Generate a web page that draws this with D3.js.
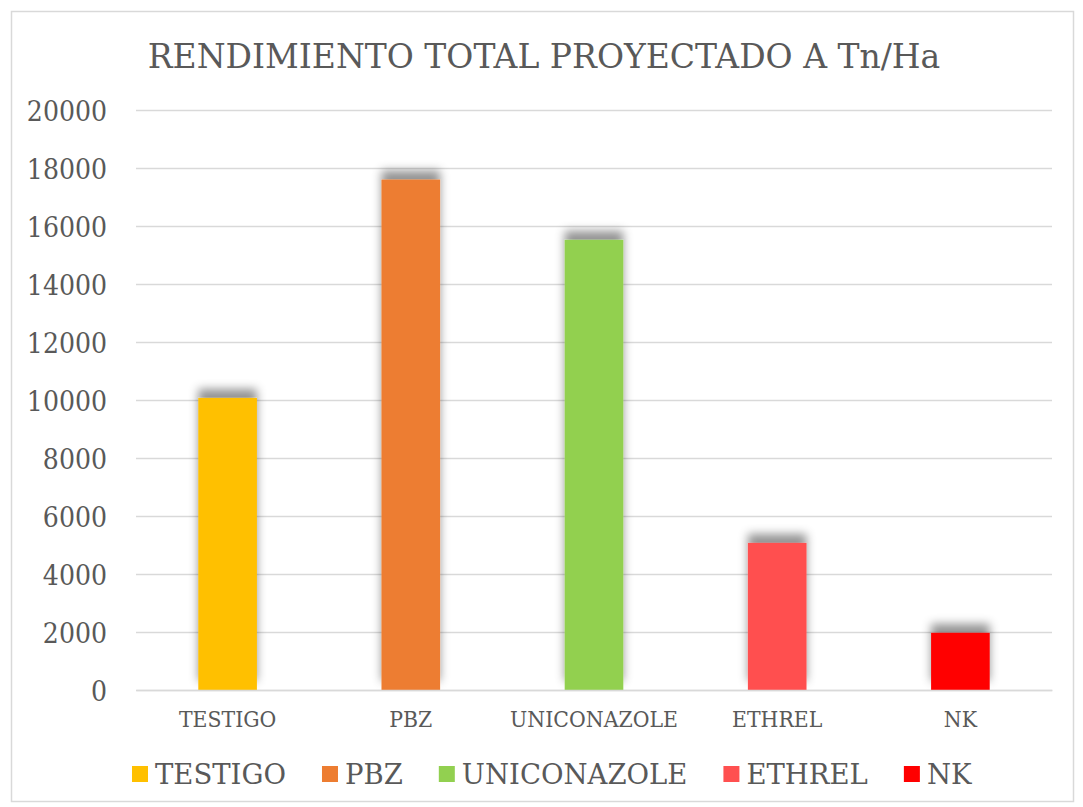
<!DOCTYPE html>
<html>
<head>
<meta charset="utf-8">
<script src="https://cdn.jsdelivr.net/npm/d3@7"></script>
<style>
  body { margin: 0; background: #fff; }
</style>
</head>
<body>
<svg id="canvas" width="1083" height="807"></svg>
<script>
var categories = ["TESTIGO", "PBZ", "UNICONAZOLE", "ETHREL", "NK"];
var values = [10070, 17600, 15520, 5070, 1970];
var colors = ["#ffc000", "#ed7d31", "#92d050", "#ff5050", "#ff0000"];
var yTicks = [0, 2000, 4000, 6000, 8000, 10000, 12000, 14000, 16000, 18000, 20000];
var title = "RENDIMIENTO TOTAL PROYECTADO A Tn/Ha";

var FONT = "'DejaVu Serif', serif";
var svg = d3.select("#canvas");

// squeeze a text a bit (Times is narrower than the serif we have)
function fit(sel, w){
	sel.each(function(){
		var len = this.getComputedTextLength() * w;
		d3.select(this).attr("textLength", len).attr("lengthAdjust", "spacingAndGlyphs");
	});
}

// outer frame
svg.append("rect")
	.attr("x", 11.5).attr("y", 11.5)
	.attr("width", 1062).attr("height", 790)
	.attr("fill", "#fff")
	.attr("stroke", "#d9d9d9")
	.attr("stroke-width", 1.5);

// soft shadow sitting above each bar
var defs = svg.append("defs");
var f = defs.append("filter").attr("id", "shadow")
	.attr("x", "-40%").attr("y", "-40%").attr("width", "180%").attr("height", "180%");
f.append("feGaussianBlur").attr("in", "SourceAlpha").attr("stdDeviation", 5).attr("result", "blur");
f.append("feOffset").attr("in", "blur").attr("dx", 0).attr("dy", -9).attr("result", "off");
f.append("feFlood").attr("flood-color", "#000").attr("flood-opacity", 0.42);
f.append("feComposite").attr("in2", "off").attr("operator", "in").attr("result", "sh");
var m = f.append("feMerge");
m.append("feMergeNode").attr("in", "sh");
m.append("feMergeNode").attr("in", "SourceGraphic");

var plotLeft = 136, plotRight = 1052, plotTop = 110, plotBottom = 690;

var y = d3.scaleLinear().domain([0, 20000]).range([plotBottom, plotTop]);
var x = d3.scaleBand().domain(categories).range([plotLeft, plotRight]).paddingInner(0.68).paddingOuter(0.34);

// title
svg.append("text")
	.attr("x", 544).attr("y", 68)
	.attr("text-anchor", "middle")
	.attr("font-family", FONT)
	.attr("fill", "#595959")
	.style("font-size", "33px")
	.text(title);

// grid
var yAxis = d3.axisLeft(y).tickValues(yTicks).tickSize(-(plotRight - plotLeft)).tickPadding(29).tickFormat(d3.format("d"));
var ga = svg.append("g").attr("transform", "translate(" + plotLeft + ",0)").call(yAxis);
ga.attr("font-family", FONT);
ga.select(".domain").remove();
ga.selectAll(".tick line").attr("stroke", "#d9d9d9").attr("stroke-width", 1.5);
ga.selectAll(".tick text")
	.attr("fill", "#595959")
	.style("font-size", "28px")
	.attr("dy", "0.38em")
	.call(fit, 0.9);

// bars
svg.append("g").selectAll("rect")
	.data(values)
	.enter()
	.append("rect")
		.attr("x", function(d, i){ return x(categories[i]); })
		.attr("y", function(d){ return y(d); })
		.attr("width", x.bandwidth())
		.attr("height", function(d){ return plotBottom - y(d); })
		.attr("fill", function(d, i){ return colors[i]; })
		.attr("filter", "url(#shadow)");

// category axis
var xAxis = d3.axisBottom(x).tickSize(0).tickPadding(21);
var gx = svg.append("g").attr("transform", "translate(0," + plotBottom + ")").call(xAxis);
gx.attr("font-family", FONT);
gx.select(".domain").attr("stroke", "#d9d9d9").attr("stroke-width", 1.5);
gx.selectAll(".tick text")
	.attr("fill", "#595959")
	.style("font-size", "22px")
	.call(fit, 0.93);

// legend
var legend = svg.append("g");
var lx = 132;
categories.forEach(function(c, i){
	legend.append("rect")
		.attr("x", lx).attr("y", 766)
		.attr("width", 16).attr("height", 16)
		.attr("fill", colors[i]);
	var t = legend.append("text")
		.attr("x", lx + 23).attr("y", 784)
		.attr("font-family", FONT)
		.attr("fill", "#595959")
		.style("font-size", "27.5px")
		.text(c);
	lx = lx + 23 + t.node().getComputedTextLength() + 36;
});
</script>
</body>
</html>
